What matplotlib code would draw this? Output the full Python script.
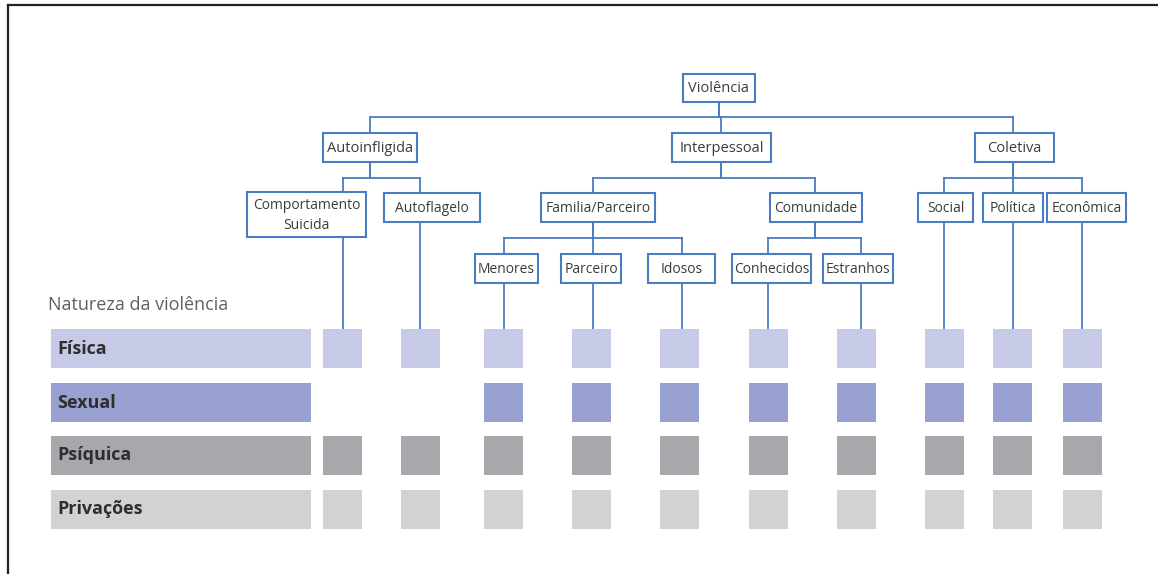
import matplotlib.pyplot as plt
from matplotlib.patches import Rectangle

plt.rcParams['font.family'] = ['Open Sans', 'DejaVu Sans']

# tree of violence types: (name, parent)
nodes = ["Violência",
         "Autoinfligida", "Interpessoal", "Coletiva",
         "Comportamento\nSuicida", "Autoflagelo", "Familia/Parceiro", "Comunidade",
         "Social", "Política", "Econômica",
         "Menores", "Parceiro", "Idosos", "Conhecidos", "Estranhos"]
parents = [None,
           "Violência", "Violência", "Violência",
           "Autoinfligida", "Autoinfligida", "Interpessoal", "Interpessoal",
           "Coletiva", "Coletiva", "Coletiva",
           "Familia/Parceiro", "Familia/Parceiro", "Familia/Parceiro",
           "Comunidade", "Comunidade"]

# leaf columns in the order they appear under the tree
columns = ["Comportamento\nSuicida", "Autoflagelo", "Menores", "Parceiro", "Idosos",
           "Conhecidos", "Estranhos", "Social", "Política", "Econômica"]
rows = ["Física", "Sexual", "Psíquica", "Privações"]
# 1 = that nature of violence applies to the column
applies = {
    "Física":    [1, 1, 1, 1, 1, 1, 1, 1, 1, 1],
    "Sexual":    [0, 0, 1, 1, 1, 1, 1, 1, 1, 1],
    "Psíquica":  [1, 1, 1, 1, 1, 1, 1, 1, 1, 1],
    "Privações": [1, 1, 1, 1, 1, 1, 1, 1, 1, 1],
}
row_colors = ["#c6cae7", "#98a1d1", "#a7a8ac", "#d1d2d4"]

# layout in pixels: anchor x of connector, box left, right, top, bottom
layout = {
    "Violência":              (719, 683, 755, 74, 102),
    "Autoinfligida":          (370, 323, 417, 133, 162),
    "Interpessoal":           (721, 672, 771, 133, 162),
    "Coletiva":               (1013, 975, 1054, 133, 162),
    "Comportamento\nSuicida": (343, 247, 366, 192, 237),
    "Autoflagelo":            (420, 384, 480, 193, 222),
    "Familia/Parceiro":       (593, 541, 655, 193, 222),
    "Comunidade":             (815, 770, 862, 193, 222),
    "Social":                 (944, 918, 973, 193, 222),
    "Política":               (1013, 983, 1043, 193, 222),
    "Econômica":              (1082, 1047, 1126, 193, 222),
    "Menores":                (504, 475, 538, 254, 283),
    "Parceiro":               (593, 561, 621, 254, 283),
    "Idosos":                 (682, 648, 715, 254, 283),
    "Conhecidos":             (768, 732, 811, 254, 283),
    "Estranhos":              (861, 823, 893, 254, 283),
}
bus_y = {"Violência": 117, "Autoinfligida": 178, "Interpessoal": 178, "Coletiva": 178,
         "Familia/Parceiro": 238, "Comunidade": 238}
# centre of each square column
col_x = [342, 420, 503, 591, 679, 768, 856, 944, 1012, 1082]

row_top = [329, 383, 436, 490]
row_h = 39
sq_w = 39
label_x0, label_x1 = 51, 311

line_col = "#4a7cc4"
text_col = "#3c3c3c"

fig = plt.figure(figsize=(11.58, 5.74), dpi=100)
ax = fig.add_axes([0, 0, 1, 1])
ax.set_xlim(0, 1158)
ax.set_ylim(574, 0)
ax.axis("off")

# frame lines (top and left)
ax.plot([8, 1158], [5, 5], color="#222222", lw=1.6)
ax.plot([8, 8], [5, 574], color="#222222", lw=1.6)

# connectors
for name, par in zip(nodes, parents):
    if par is None:
        continue
    ax_, l, r, t, b = layout[name]
    pax, pl, pr, pt, pb = layout[par]
    by = bus_y[par]
    ax.plot([pax, pax], [pb, by], color=line_col, lw=1.3, zorder=1)
    ax.plot([pax, ax_], [by, by], color=line_col, lw=1.3, zorder=1)
    ax.plot([ax_, ax_], [by, t], color=line_col, lw=1.3, zorder=1)

# lines from leaves down to the first row of squares
for c in columns:
    ax_, l, r, t, b = layout[c]
    ax.plot([ax_, ax_], [b, row_top[0]], color=line_col, lw=1.3, zorder=1)

# boxes
for name in nodes:
    ax_, l, r, t, b = layout[name]
    ax.add_patch(Rectangle((l, t), r - l, b - t, facecolor="white",
                           edgecolor=line_col, lw=1.5, zorder=2))
    fs = 10.5 if name in ("Violência", "Interpessoal", "Coletiva", "Autoinfligida") else 10
    ax.text((l + r) / 2, (t + b) / 2 + 1, name, ha="center", va="center",
            fontsize=fs, color=text_col, zorder=3, linespacing=1.45)

# nature of violence
ax.text(48, 305, "Natureza da violência", fontsize=13, color="#606060",
        ha="left", va="center")

for i, row in enumerate(rows):
    top = row_top[i]
    ax.add_patch(Rectangle((label_x0, top), label_x1 - label_x0, row_h,
                           facecolor=row_colors[i], edgecolor="none", zorder=2))
    ax.text(57, top + row_h / 2, row, fontsize=13, fontweight="bold",
            color="#2e2e2e", ha="left", va="center", zorder=3)
    for cx, flag in zip(col_x, applies[row]):
        if not flag:
            continue
        ax.add_patch(Rectangle((cx - sq_w / 2, top), sq_w, row_h,
                               facecolor=row_colors[i], edgecolor="none", zorder=2))

fig.savefig("out.png", dpi=100)
